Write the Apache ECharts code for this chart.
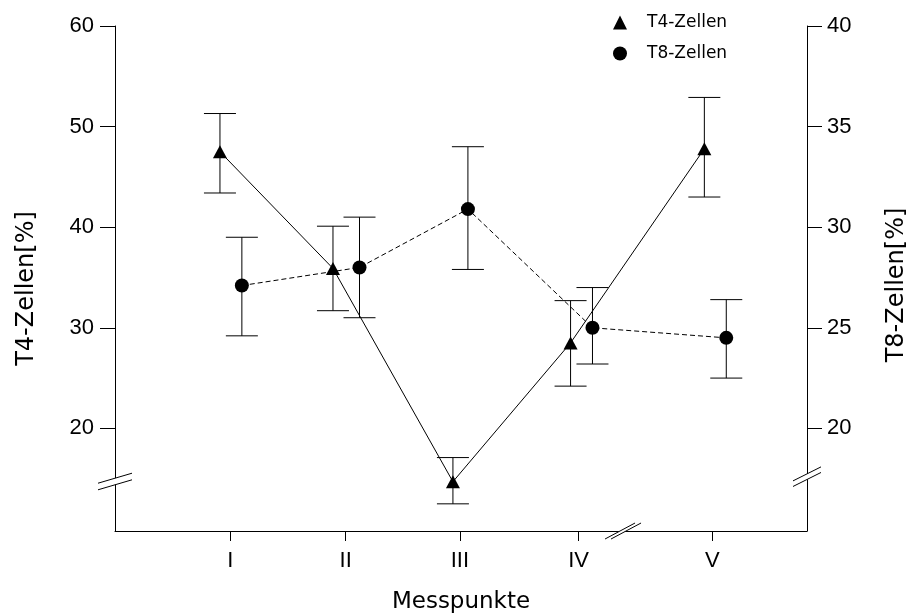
<!DOCTYPE html>
<html>
<head>
<meta charset="utf-8">
<script src="https://cdn.jsdelivr.net/npm/echarts@6/dist/echarts.min.js"></script>
<style>
html, body { margin: 0; padding: 0; background: #fff; }
#main { width: 916px; height: 614px; }
</style>
</head>
<body>
<div id="main"></div>
<script>
// Messpunkte (x positions of the ticks on a 0..6 value axis)
var tickLabels = ['I', 'II', 'III', 'IV', 'V'];
var tickPos = [1, 2, 2.99, 4.02, 5.18];

// T4-Zellen, left axis
var t4X = [0.91, 1.89, 2.93, 3.95, 5.11];
var t4Mean = [47.5, 35.9, 14.7, 28.5, 47.8];
var t4Low = [43.4, 31.7, 12.5, 24.2, 43.0];
var t4High = [51.3, 40.1, 17.1, 32.7, 52.9];

// T8-Zellen, right axis
var t8X = [1.10, 2.12, 3.06, 4.14, 5.30];
var t8Mean = [27.1, 28.0, 30.9, 25.0, 24.5];
var t8Low = [24.6, 25.5, 27.9, 23.2, 22.5];
var t8High = [29.5, 30.5, 34.0, 27.0, 26.4];

var leftTicks = [20, 30, 40, 50, 60];
var rightTicks = [20, 25, 30, 35, 40];

// where the axis break marks sit (axis values)
var leftBreak = 14.72;
var rightBreak = 17.6;
var xBreak = 4.405;

var chart = echarts.init(document.getElementById('main'));

var tickFont = 'Liberation Sans, Arial, sans-serif';
var titleFont = 'DejaVu Sans, sans-serif';

function errorBars(xs, lows, highs, yIdx) {
  return {
    type: 'custom',
    yAxisIndex: yIdx,
    silent: true,
    z: 1,
    data: xs.map(function (x, i) { return [x, lows[i], highs[i]]; }),
    encode: { x: 0, y: [1, 2] },
    renderItem: function (params, api) {
      var lo = api.coord([api.value(0), api.value(1)]);
      var hi = api.coord([api.value(0), api.value(2)]);
      var half = 16;
      var st = { stroke: '#000', lineWidth: 1 };
      return {
        type: 'group',
        children: [
          { type: 'line', shape: { x1: lo[0], y1: lo[1], x2: hi[0], y2: hi[1] }, style: st },
          { type: 'line', shape: { x1: hi[0] - half, y1: hi[1], x2: hi[0] + half, y2: hi[1] }, style: st },
          { type: 'line', shape: { x1: lo[0] - half, y1: lo[1], x2: lo[0] + half, y2: lo[1] }, style: st }
        ]
      };
    }
  };
}

var axisLine = { lineStyle: { color: '#000', width: 1 } };

var option = {
  backgroundColor: '#fff',
  animation: false,
  grid: { left: 115, right: 109, top: 26, bottom: 83, outerBoundsMode: 'none' },
  legend: {
    orient: 'vertical',
    left: 608,
    top: 9,
    itemWidth: 14,
    itemHeight: 14,
    itemGap: 14,
    textStyle: { fontFamily: titleFont, fontSize: 17, color: '#000', padding: [0, 0, 0, 15] },
    data: [
      { name: 'T4-Zellen', icon: 'triangle' },
      { name: 'T8-Zellen', icon: 'circle' }
    ]
  },
  xAxis: {
    type: 'value',
    min: 0,
    max: 6,
    name: 'Messpunkte',
    nameLocation: 'middle',
    nameGap: 60,
    nameTextStyle: { fontFamily: titleFont, fontSize: 23, color: '#000' },
    axisLine: axisLine,
    splitLine: { show: false },
    axisTick: { customValues: tickPos, length: 10, lineStyle: { color: '#000' } },
    axisLabel: {
      customValues: tickPos,
      margin: 19,
      fontFamily: tickFont,
      fontSize: 22,
      color: '#000',
      formatter: function (v) {
        var i = tickPos.indexOf(v);
        return i >= 0 ? tickLabels[i] : '';
      }
    }
  },
  yAxis: [
    {
      type: 'value',
      position: 'left',
      min: 9.8,
      max: 60,
      name: 'T4-Zellen[%]',
      nameLocation: 'middle',
      nameRotate: 90,
      nameGap: 76,
      nameTextStyle: { fontFamily: titleFont, fontSize: 24, color: '#000', padding: [0, 20, 0, 0] },
      axisLine: axisLine,
      splitLine: { show: false },
      axisTick: { customValues: leftTicks, length: 15, lineStyle: { color: '#000' } },
      axisLabel: { customValues: leftTicks, margin: 21, fontFamily: tickFont, fontSize: 22, color: '#000' }
    },
    {
      type: 'value',
      position: 'right',
      min: 14.9,
      max: 40,
      name: 'T8-Zellen[%]',
      nameLocation: 'middle',
      nameRotate: 90,
      nameGap: 78,
      nameTextStyle: { fontFamily: titleFont, fontSize: 24, color: '#000', padding: [0, 13, 0, 0] },
      axisLine: axisLine,
      splitLine: { show: false },
      axisTick: { customValues: rightTicks, length: 15, lineStyle: { color: '#000' } },
      axisLabel: { customValues: rightTicks, margin: 20, fontFamily: tickFont, fontSize: 22, color: '#000' }
    }
  ],
  series: [
    errorBars(t4X, t4Low, t4High, 0),
    errorBars(t8X, t8Low, t8High, 1),
    {
      name: 'T4-Zellen',
      type: 'line',
      yAxisIndex: 0,
      z: 3,
      symbol: 'triangle',
      symbolSize: [14, 13],
      itemStyle: { color: '#000' },
      lineStyle: { color: '#000', width: 1 },
      data: t4X.map(function (x, i) { return [x, t4Mean[i]]; })
    },
    {
      name: 'T8-Zellen',
      type: 'line',
      yAxisIndex: 1,
      z: 3,
      symbol: 'circle',
      symbolSize: 14,
      itemStyle: { color: '#000' },
      lineStyle: { color: '#000', width: 1, type: [5, 3] },
      data: t8X.map(function (x, i) { return [x, t8Mean[i]]; })
    }
  ]
};

chart.setOption(option);

// "//" break marks on the three axes
function breakMark(cx, cy, dx, dy, ox, oy) {
  var st = { stroke: '#000', lineWidth: 1 };
  return [
    {
      type: 'polygon', z: 10, silent: true,
      shape: { points: [
        [cx - dx - ox, cy + dy - oy], [cx + dx - ox, cy - dy - oy],
        [cx + dx + ox, cy - dy + oy], [cx - dx + ox, cy + dy + oy]
      ] },
      style: { fill: '#fff' }
    },
    { type: 'line', z: 11, silent: true, shape: { x1: cx - dx - ox, y1: cy + dy - oy, x2: cx + dx - ox, y2: cy - dy - oy }, style: st },
    { type: 'line', z: 11, silent: true, shape: { x1: cx - dx + ox, y1: cy + dy + oy, x2: cx + dx + ox, y2: cy - dy + oy }, style: st }
  ];
}

var xLeft = chart.convertToPixel({ xAxisIndex: 0 }, 0);
var xRight = chart.convertToPixel({ xAxisIndex: 0 }, 6);
var yBottom = chart.convertToPixel({ yAxisIndex: 0 }, 9.8);
var yL = chart.convertToPixel({ yAxisIndex: 0 }, leftBreak);
var yR = chart.convertToPixel({ yAxisIndex: 1 }, rightBreak);
var xB = chart.convertToPixel({ xAxisIndex: 0 }, xBreak);

chart.setOption({
  graphic: [].concat(
    breakMark(xLeft, yL, 17, 5, 0, 3.3),
    breakMark(xRight, yR, 14, 7, 0, 2.8),
    breakMark(xB, yBottom, 15, 8, 3, 0)
  )
});
</script>
</body>
</html>
